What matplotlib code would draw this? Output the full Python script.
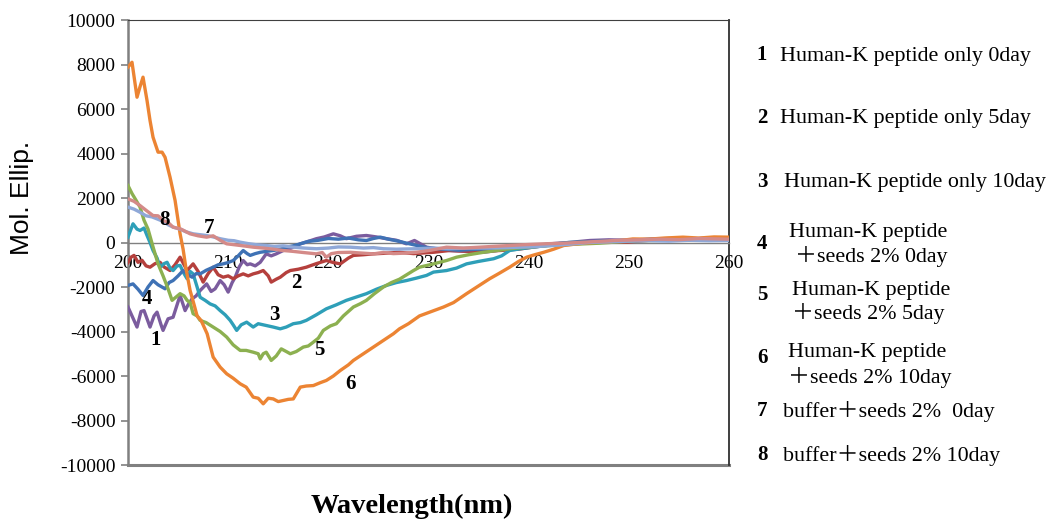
import matplotlib
matplotlib.use("Agg")
import matplotlib.pyplot as plt

# CD spectra, wavelength (nm) vs molar ellipticity
wl_1 = [200, 200.4, 200.9, 201.3, 201.6, 202.2, 202.6, 202.9, 203.3, 203.5, 204.0, 204.5, 204.9, 205.2,
        205.7, 206.0, 206.4, 206.8, 207.2, 207.85, 208.3, 208.7, 209.2, 209.6, 210.0, 210.4, 210.7, 211.1,
        211.5, 211.9, 212.2, 212.7, 213.2, 213.8, 214.3, 214.8, 215.5, 216.3, 217.2, 218.0, 218.8, 219.6,
        220.5, 221.2, 221.8, 222.8, 223.8, 224.8, 225.8, 226.8, 227.8, 228.6, 229.8, 231.0, 232.1, 233.8,
        235.5, 237.0, 238.1, 240.0, 242.1, 244.0, 246.1, 248.0, 250.0, 252.0, 254.0, 256.0, 258.0, 260.0]
cd_1 = [-2900, -3300, -3800, -3100, -3060, -3800, -3300, -3130, -3700, -3950, -3430, -3360, -2800, -2380,
        -3060, -2800, -2530, -2400, -2160, -1860, -2200, -2080, -1710, -1900, -2230, -1800, -1560, -1100,
        -810, -1000, -960, -1050, -890, -510, -600, -510, -360, -250, -60, 50, 170, 250,
        390, 300, 170, 280, 315, 250, 170, 100, -60, 90, -210, -300, -360, -400,
        -440, -350, -280, -200, -60, 0, 90, 120, 100, 150, 180, 150, 200, 180]

wl_2 = [200, 200.3, 200.6, 201.0, 201.4, 201.8, 202.2, 202.7, 203.2, 203.6, 204.2, 204.7, 205.2, 205.6,
        205.9, 206.5, 207.0, 207.5, 208.0, 208.5, 209.0, 209.5, 210.0, 210.5, 211.0, 211.5, 212.0, 212.5,
        213.0, 213.5, 214.0, 214.3, 214.8, 215.2, 215.8, 216.2, 217.0, 217.8, 218.8, 219.8, 220.5, 221.2,
        222.0, 222.5, 223.5, 224.5, 225.8, 227.1, 228.5, 230.5, 232.1, 234.5, 237.1, 239.0, 240.4, 242.0,
        243.8, 246.0, 249.8, 252.0, 255.0, 258.0, 260.0]
cd_2 = [-900, -660, -580, -890, -800, -1050, -1110, -950, -890, -1100, -1260, -1000, -660, -1000,
        -1260, -960, -1300, -1780, -1400, -1110, -1450, -1560, -1500, -1630, -1500, -1410, -1500, -1410,
        -1350, -1260, -1500, -1780, -1650, -1560, -1350, -1260, -1200, -1110, -950, -810, -900, -960,
        -700, -580, -550, -510, -480, -440, -500, -440, -360, -400, -360, -300, -210, -120,
        -30, 20, 15, 100, 150, 120, 150]

wl_3 = [200, 200.5, 200.9, 201.2, 201.6, 201.9, 202.2, 202.5, 202.9, 203.2, 203.6, 203.9, 204.2, 204.5,
        204.9, 205.2, 205.6, 205.9, 206.2, 206.5, 206.9, 207.2, 207.7, 208.2, 208.7, 209.2, 209.7, 210.2,
        210.5, 210.85, 211.3, 211.85, 212.2, 212.5, 213.0, 213.8, 214.5, 215.2, 215.8, 216.5, 217.2, 217.8,
        218.8, 219.8, 220.8, 221.8, 222.8, 223.8, 224.8, 225.8, 226.8, 227.8, 228.8, 229.8, 230.5, 231.8,
        232.8, 233.8, 235.0, 236.5, 237.3, 238.1, 239.2, 240.4, 241.6, 242.8, 244.0, 245.5, 248.0, 251.0,
        254.0, 257.0, 260.0]
cd_3 = [240, 840, 600, 540, 650, 315, 0, -360, -700, -1110, -950, -890, -1150, -1260,
        -1050, -1030, -1400, -1630, -1300, -1410, -2000, -2460, -2600, -2760, -2850, -3060, -3250, -3500,
        -3700, -3950, -3700, -3580, -3700, -3800, -3650, -3730, -3800, -3880, -3800, -3650, -3600, -3500,
        -3250, -2980, -2800, -2600, -2450, -2300, -2100, -1930, -1800, -1710, -1600, -1480, -1330, -1260,
        -1150, -960, -850, -730, -600, -360, -280, -210, -150, -60, 0, 15, 60, 100,
        120, 100, 120]

wl_4 = [200, 200.5, 201.0, 201.5, 202.0, 202.5, 203.0, 203.7, 204.1, 204.5, 205.0, 205.5, 206.0, 206.4,
        206.8, 207.2, 207.8, 208.5, 209.0, 209.5, 210.0, 210.5, 211.0, 211.5, 211.9, 212.2, 212.7, 213.2,
        213.8, 214.5, 215.2, 215.8, 216.5, 217.2, 218.0, 219.0, 220.0, 221.0, 222.0, 223.0, 223.8, 224.5,
        225.2, 226.0, 227.0, 228.0, 229.0, 230.0, 231.5, 233.0, 235.0, 237.0, 239.0, 241.0, 243.0, 245.0,
        247.0, 250.0, 253.0, 256.0, 260.0]
cd_4 = [-1930, -1860, -2100, -2380, -2000, -1710, -1900, -2080, -1800, -1710, -1500, -1260, -1450, -1560,
        -1400, -1410, -1250, -1110, -1000, -960, -900, -810, -600, -360, -500, -580, -500, -440,
        -400, -360, -300, -210, -150, -60, 50, 100, 180, 150, 200, 120, 90, 180,
        240, 150, 60, -50, -150, -250, -300, -350, -300, -280, -200, -120, -50, 0,
        60, 100, 150, 130, 180]

wl_5 = [200, 200.4, 200.8, 201.2, 201.6, 202.0, 202.5, 203.0, 203.5, 204.0, 204.4, 204.8, 205.2, 205.6,
        205.9, 206.2, 206.5, 206.9, 207.2, 207.8, 208.5, 209.2, 209.85, 210.5, 211.2, 211.8, 212.5, 213.0,
        213.2, 213.5, 213.8, 214.3, 214.8, 215.3, 215.8, 216.2, 216.8, 217.5, 218.0, 218.5, 219.0, 219.5,
        220.2, 220.8, 221.5, 222.5, 223.2, 223.8, 224.6, 225.5, 226.3, 227.1, 228.5, 229.1, 230.5, 231.8,
        232.8, 234.0, 235.5, 237.0, 238.1, 240.0, 242.1, 244.5, 247.1, 249.0, 251.0, 254.0, 257.0, 260.0]
cd_5 = [2560, 2200, 1900, 1590, 1000, 600, -200, -960, -1500, -2080, -2600, -2450, -2300, -2400,
        -2600, -2700, -3200, -3300, -3500, -3600, -3800, -4000, -4250, -4600, -4850, -4850, -4930, -5000,
        -5230, -5000, -4930, -5300, -5100, -4780, -4900, -5000, -4900, -4700, -4650, -4480, -4300, -3950,
        -3750, -3650, -3300, -2900, -2750, -2600, -2300, -2000, -1800, -1650, -1260, -1110, -960, -810,
        -660, -550, -440, -350, -280, -200, -135, -80, -30, 30, 80, 100, 150, 200]

wl_6 = [200, 200.4, 200.9, 201.2, 201.5, 201.9, 202.2, 202.5, 203.0, 203.4, 203.7, 204.2, 204.7, 205.2,
        205.5, 205.8, 206.2, 206.6, 206.9, 207.3, 207.9, 208.5, 209.2, 209.85, 210.5, 211.2, 211.8, 212.5,
        213.0, 213.5, 214.0, 214.5, 215.0, 215.5, 216.0, 216.5, 217.2, 217.8, 218.5, 219.2, 219.8, 220.5,
        221.2, 222.0, 222.5, 223.5, 224.5, 225.5, 226.5, 227.1, 228.0, 229.1, 230.3, 231.5, 232.5, 233.8,
        235.0, 236.1, 237.0, 238.1, 239.0, 239.8, 240.6, 241.5, 242.5, 243.5, 244.5, 245.5, 246.5, 247.8,
        249.0, 250.4, 252.0, 253.5, 255.4, 257.0, 258.5, 260.0]
cd_6 = [7880, 8100, 6530, 7000, 7430, 6380, 5480, 4730, 4060, 4060, 3830, 2930, 1890, 390,
        -300, -1200, -2157, -2800, -3300, -3505, -4100, -5150, -5600, -5900, -6100, -6350, -6500, -6950,
        -7000, -7250, -7000, -7030, -7150, -7100, -7050, -7030, -6500, -6450, -6430, -6300, -6200, -6000,
        -5750, -5500, -5300, -5000, -4700, -4400, -4100, -3880, -3650, -3300, -3100, -2900, -2700, -2300,
        -1950, -1630, -1400, -1110, -850, -660, -550, -440, -300, -135, -80, -30, 0, 15,
        80, 160, 150, 200, 240, 200, 250, 240]

wl_7 = [200, 200.6, 201.2, 201.8, 202.4, 202.9, 203.5, 204.0, 204.5, 205.2, 205.8, 206.5, 207.2, 207.85,
        208.5, 209.2, 210.0, 210.6, 211.2, 212.0, 212.8, 213.8, 214.6, 215.5, 216.5, 217.6, 218.8, 220.0,
        221.0, 222.2, 223.5, 224.5, 225.5, 226.8, 228.8, 230.5, 232.0, 234.0, 236.0, 238.0, 240.0, 242.0,
        244.0, 246.0, 248.0, 250.0, 252.0, 254.0, 256.0, 258.0, 260.0]
cd_7 = [1590, 1500, 1360, 1200, 1150, 1060, 950, 800, 690, 600, 480, 390, 350, 315,
        250, 170, 100, 80, 15, -50, -100, -135, -180, -150, -210, -250, -280, -250,
        -200, -210, -250, -230, -280, -300, -280, -250, -280, -250, -250, -230, -200, -150,
        -80, 0, 30, 60, 80, 60, 100, 80, 90]

wl_8 = [200, 200.6, 201.2, 201.8, 202.5, 203.0, 203.5, 204.0, 204.5, 205.3, 206.2, 207.0, 207.85, 208.5,
        209.2, 209.85, 210.6, 211.5, 212.5, 213.5, 214.5, 215.5, 216.5, 217.5, 218.8, 219.4, 219.8, 220.3,
        221.0, 222.2, 223.5, 224.5, 225.5, 226.5, 227.5, 228.8, 230.2, 231.8, 233.5, 235.5, 237.5, 239.5,
        241.5, 243.5, 245.0, 247.0, 249.0, 251.0, 253.0, 255.0, 257.0, 260.0]
cd_8 = [1960, 1850, 1660, 1450, 1210, 1200, 990, 900, 690, 600, 390, 300, 240, 300,
        100, -60, -100, -150, -210, -250, -300, -360, -400, -450, -510, -450, -660, -500,
        -450, -440, -480, -510, -450, -500, -480, -440, -350, -210, -250, -200, -150, -100,
        -60, -30, 0, 50, 100, 120, 150, 130, 180, 150]

series = [(wl_1, cd_1), (wl_2, cd_2), (wl_3, cd_3), (wl_4, cd_4),
          (wl_5, cd_5), (wl_6, cd_6), (wl_7, cd_7), (wl_8, cd_8)]
colors = ["#7B5C9E", "#B5403D", "#2E9FB8", "#3F72B5",
          "#8CB050", "#EC8433", "#8FA8D8", "#D48A88"]

# where the curve numbers sit inside the plot (nm, ellipticity)
tag_nm = [202.8, 216.8, 214.6, 201.9, 219.1, 222.2, 208.1, 203.6]
tag_cd = [-4400, -1840, -3280, -2520, -4850, -6340, 630, 990]

legend_lines = [
    ["Human-K peptide only 0day"],
    ["Human-K peptide only 5day"],
    ["Human-K peptide only 10day"],
    ["Human-K peptide", "\uff0bseeds 2% 0day"],
    ["Human-K peptide", "\uff0bseeds 2% 5day"],
    ["Human-K peptide", "\uff0bseeds 2% 10day"],
    ["buffer\uff0bseeds 2%  0day"],
    ["buffer\uff0bseeds 2% 10day"],
]

x_ticks = [200, 210, 220, 230, 240, 250, 260]
y_ticks = list(range(-10000, 10001, 2000))

serif = ["Liberation Serif", "Noto Sans CJK JP"]

W, H = 1047, 521
fig = plt.figure(figsize=(W / 100, H / 100), dpi=100)
ax = fig.add_axes([128 / W, 1 - 465 / H, (729 - 128) / W, (465 - 20) / H])

for (x, y), c in zip(series, colors):
    ax.plot(x, y, color=c, lw=2.4, solid_joinstyle="round", zorder=3)

ax.set_xlim(200, 260)
ax.set_ylim(-10000, 10000)

# x axis crosses at zero, box frame around the plot
ax.spines["bottom"].set_position(("data", 0))
ax.spines["bottom"].set_color("#808080")
ax.spines["bottom"].set_linewidth(1.0)
ax.spines["left"].set_color("#808080")
ax.spines["left"].set_linewidth(1.8)
ax.spines["top"].set_color("#404040")
ax.spines["top"].set_linewidth(0.8)
ax.spines["right"].set_color("#303030")
ax.spines["right"].set_linewidth(1.3)
ax.axhline(-10000, color="#808080", lw=2.2, clip_on=False)

ax.set_xticks(x_ticks)
ax.set_yticks(y_ticks)
ax.set_xticklabels([str(t) for t in x_ticks], family=serif, fontsize=14)
ax.set_yticklabels([str(t) for t in y_ticks], family=serif, fontsize=14)
ax.tick_params(axis="x", length=0, pad=9)
ax.tick_params(axis="y", length=5, color="#808080", width=1.2, pad=4)

for i, (tx, ty) in enumerate(zip(tag_nm, tag_cd)):
    ax.text(tx, ty, str(i + 1), family=serif, fontsize=15, fontweight="bold",
            ha="center", va="center", zorder=4)

fig.text(22 / W, 1 - 198 / H, "Mol. Ellip.", family="Liberation Sans", fontsize=19,
         rotation=90, ha="center", va="center")
fig.text(412 / W, 1 - 506 / H, "Wavelength(nm)", family=serif, fontsize=20.5,
         fontweight="bold", ha="center", va="center")

# legend on the right: number, then one or two text lines
num_y = [55, 118, 182, 244, 295, 358, 411, 455]
text_x = [780, 780, 784, [789, 795], [792, 792], [788, 788], 783, 783]
text_y = [[56], [119], [183], [233, 257], [290, 313], [353, 377], [411], [456]]
for i, lines in enumerate(legend_lines):
    fig.text(762 / W, 1 - num_y[i] / H, str(i + 1), family=serif, fontsize=15,
             fontweight="bold", ha="center", va="center")
    xs = text_x[i] if isinstance(text_x[i], list) else [text_x[i]] * len(lines)
    for s, lx, ly in zip(lines, xs, text_y[i]):
        fig.text(lx / W, 1 - ly / H, s, family=serif, fontsize=15.8,
                 ha="left", va="center")

fig.savefig("out.png", dpi=100)
